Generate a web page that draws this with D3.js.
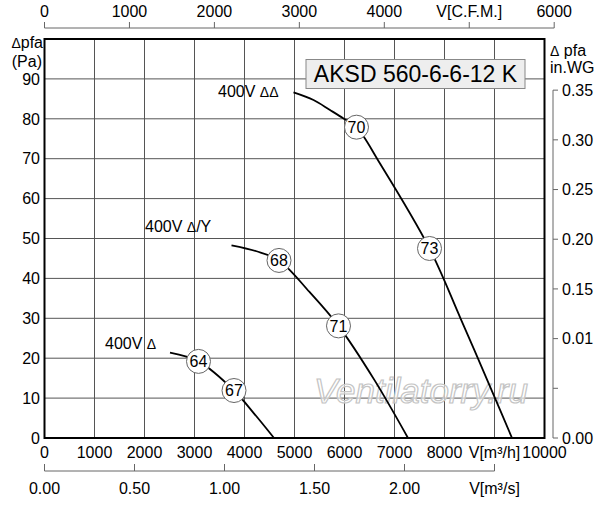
<!DOCTYPE html>
<html>
<head>
<meta charset="utf-8">
<script src="https://cdn.jsdelivr.net/npm/d3@7"></script>
<style>
  body { margin: 0; background: #fff; }
  svg text { font-family: "Liberation Sans", Arial, sans-serif; fill: #000; }
  tspan.sym { font-size: 14px; }
</style>
</head>
<body>
<div id="chart"></div>
<script>
// data: flow in m3/h, pressure in Pa
const flowTicks = [0, 1000, 2000, 3000, 4000, 5000, 6000, 7000, 8000, 9000, 10000];
const flowLabels = ["0", "1000", "2000", "3000", "4000", "5000", "6000", "7000", "8000", "V[m³/h]", "10000"];
const paTicks = [0, 10, 20, 30, 40, 50, 60, 70, 80, 90];
const cfmTicks = [0, 1000, 2000, 3000, 4000, 5000, 6000];
const cfmLabels = ["0", "1000", "2000", "3000", "4000", "V[C.F.M.]", "6000"];
const m3sTicks = [0, 0.5, 1.0, 1.5, 2.0, 2.5];
const m3sLabels = ["0.00", "0.50", "1.00", "1.50", "2.00", "V[m³/s]"];
const wgTicks = [0, 0.05, 0.10, 0.15, 0.20, 0.25, 0.30, 0.35];
const wgLabels = ["0.00", "", "0.01", "0.15", "0.20", "0.25", "0.30", "0.35"];

const curveDDFlow = [4980, 5380, 5710, 5980, 6240, 6710, 7700, 8320, 9010, 9350];
const curveDDPa   = [86.6, 84.7, 82.2, 80.1, 77.9, 68.8, 47.5, 30, 10, 0];
const curveDYFlow = [3740, 4240, 4690, 5300, 5880, 6600, 7270];
const curveDYPa   = [48.3, 46.8, 44.5, 36.6, 28.1, 14.5, 0];
const curveDFlow  = [2510, 3080, 3790, 4200, 4590];
const curveDPa    = [21.4, 19.2, 11.9, 6, 0];

const curveVolt   = ["400V", "400V", "400V"];
const curveSym    = ["ΔΔ", "Δ", "Δ"];
const curveSuffix = ["", "/Y", ""];
const markerFlow  = [6240, 7700, 4690, 5880, 3080, 3790];
const markerPa    = [77.9, 47.5, 44.5, 28.1, 19.2, 11.9];
const markerLabel = ["70", "73", "68", "71", "64", "67"];

const title = "AKSD 560-6-6-12 K";

const width = 600, height = 505;
const plot = { left: 44.5, right: 544.5, top: 39, bottom: 438 };

const x = d3.scaleLinear().domain([0, 10000]).range([plot.left, plot.right]);
const y = d3.scaleLinear().domain([0, 100]).range([plot.bottom, plot.top]);
const xCfm = d3.scaleLinear().domain([0, 10000 / 1.699]).range([plot.left, plot.right]);
const xM3s = d3.scaleLinear().domain([0, 10000 / 3600]).range([plot.left, plot.right]);
const yWg = d3.scaleLinear().domain([0, 100 / 249.089]).range([plot.bottom, plot.top]);

const svg = d3.select("#chart").append("svg")
  .attr("width", width)
  .attr("height", height);

// grid
const grid = svg.append("g").attr("stroke", "#555").attr("stroke-width", 1);
grid.selectAll(".vg").data(flowTicks.slice(1, -1)).enter().append("line")
  .attr("x1", d => x(d)).attr("x2", d => x(d))
  .attr("y1", plot.top).attr("y2", plot.bottom);
grid.selectAll(".hg").data(paTicks.slice(1)).enter().append("line")
  .attr("x1", plot.left).attr("x2", plot.right)
  .attr("y1", d => y(d)).attr("y2", d => y(d));

// watermark
svg.append("text")
  .attr("x", 314).attr("y", 403)
  .style("font-size", "35px")
  .style("font-style", "italic")
  .style("fill", "rgba(255,255,255,0.6)")
  .style("stroke", "#c4c4c4")
  .style("stroke-width", 1.2)
  .text("Ventilatorry.ru");

// title box
const tg = svg.append("g");
tg.append("rect")
  .attr("x", 306).attr("y", 59.5)
  .attr("width", 219).attr("height", 29)
  .attr("fill", "#eeeeee")
  .attr("stroke", "#888");
tg.append("text")
  .attr("x", 415.5).attr("y", 82)
  .attr("text-anchor", "middle")
  .style("font-size", "23px")
  .text(title);

// frame
svg.append("rect")
  .attr("x", plot.left).attr("y", plot.top)
  .attr("width", plot.right - plot.left).attr("height", plot.bottom - plot.top)
  .attr("fill", "none").attr("stroke", "#000").attr("stroke-width", 2);

// curves
const line = d3.line()
  .x(d => x(d[0])).y(d => y(d[1]))
  .curve(d3.curveCatmullRom.alpha(0.5));
const curves = [
  d3.zip(curveDDFlow, curveDDPa),
  d3.zip(curveDYFlow, curveDYPa),
  d3.zip(curveDFlow, curveDPa)
];
svg.append("g").selectAll("path").data(curves).enter().append("path")
  .attr("d", line)
  .attr("fill", "none")
  .attr("stroke", "#000")
  .attr("stroke-width", 1.8);

// curve names
const namePos = [[218, 97], [145, 232], [105, 349]];
const names = svg.append("g").selectAll("text").data(curveVolt).enter().append("text")
  .attr("x", (d, i) => namePos[i][0]).attr("y", (d, i) => namePos[i][1])
  .style("font-size", "16px");
names.append("tspan").text(d => d + " ");
names.append("tspan").attr("class", "sym").text((d, i) => curveSym[i]);
names.append("tspan").text((d, i) => curveSuffix[i]);

// markers
const markers = svg.append("g").selectAll("g")
  .data(d3.range(markerFlow.length)).enter().append("g")
  .attr("transform", i => "translate(" + [x(markerFlow[i]), y(markerPa[i])] + ")");
markers.append("circle")
  .attr("r", 12)
  .attr("fill", "#fff")
  .attr("stroke", "#666")
  .attr("stroke-width", 1);
markers.append("text")
  .attr("text-anchor", "middle")
  .attr("dy", "0.36em")
  .style("font-size", "16px")
  .text(i => markerLabel[i]);

// left axis labels
svg.append("g").selectAll("text").data(paTicks).enter().append("text")
  .attr("x", 40).attr("y", d => y(d))
  .attr("dy", "0.36em")
  .attr("text-anchor", "end")
  .style("font-size", "16px")
  .text(d => d);
const lt = svg.append("text").attr("x", 43).attr("y", 48).attr("text-anchor", "end")
  .style("font-size", "16px");
lt.append("tspan").attr("class", "sym").text("Δ");
lt.append("tspan").text("pfa");
svg.append("text").attr("x", 42).attr("y", 67).attr("text-anchor", "end")
  .style("font-size", "16px").text("(Pa)");

// bottom m3/h labels
svg.append("g").selectAll("text").data(flowTicks).enter().append("text")
  .attr("x", d => x(d)).attr("y", 458)
  .attr("text-anchor", "middle")
  .style("font-size", "16px")
  .text((d, i) => flowLabels[i]);

// top CFM axis
const topAxis = svg.append("g");
topAxis.append("line")
  .attr("x1", xCfm(0)).attr("x2", xCfm(6000))
  .attr("y1", 28).attr("y2", 28)
  .attr("stroke", "#666");
topAxis.selectAll("line.t").data(cfmTicks).enter().append("line")
  .attr("x1", d => xCfm(d)).attr("x2", d => xCfm(d))
  .attr("y1", 22).attr("y2", 28)
  .attr("stroke", "#666");
topAxis.selectAll("text").data(cfmTicks).enter().append("text")
  .attr("x", d => xCfm(d)).attr("y", 17)
  .attr("text-anchor", "middle")
  .style("font-size", "16px")
  .text((d, i) => cfmLabels[i]);

// bottom m3/s axis
const m3sAxis = svg.append("g");
m3sAxis.append("line")
  .attr("x1", xM3s(0)).attr("x2", xM3s(2.5))
  .attr("y1", 471).attr("y2", 471)
  .attr("stroke", "#666");
m3sAxis.selectAll("line.t").data(m3sTicks).enter().append("line")
  .attr("x1", d => xM3s(d)).attr("x2", d => xM3s(d))
  .attr("y1", 464).attr("y2", 471)
  .attr("stroke", "#666");
m3sAxis.selectAll("text").data(m3sTicks).enter().append("text")
  .attr("x", d => xM3s(d)).attr("y", 494)
  .attr("text-anchor", "middle")
  .style("font-size", "16px")
  .text((d, i) => m3sLabels[i]);

// right in.WG axis
const wgAxis = svg.append("g");
wgAxis.append("line")
  .attr("x1", 553).attr("x2", 553)
  .attr("y1", yWg(0.35)).attr("y2", yWg(0))
  .attr("stroke", "#666");
wgAxis.selectAll("line.t").data(wgTicks).enter().append("line")
  .attr("x1", 553).attr("x2", 558)
  .attr("y1", d => yWg(d)).attr("y2", d => yWg(d))
  .attr("stroke", "#666");
wgAxis.selectAll("text").data(wgTicks).enter().append("text")
  .attr("x", 562).attr("y", d => yWg(d))
  .attr("dy", "0.36em")
  .style("font-size", "16px")
  .text((d, i) => wgLabels[i]);
const rt = svg.append("text").attr("x", 550).attr("y", 56)
  .style("font-size", "16px");
rt.append("tspan").attr("class", "sym").text("Δ");
rt.append("tspan").text(" pfa");
svg.append("text").attr("x", 550).attr("y", 73)
  .style("font-size", "16px").text("in.WG");
</script>
</body>
</html>
